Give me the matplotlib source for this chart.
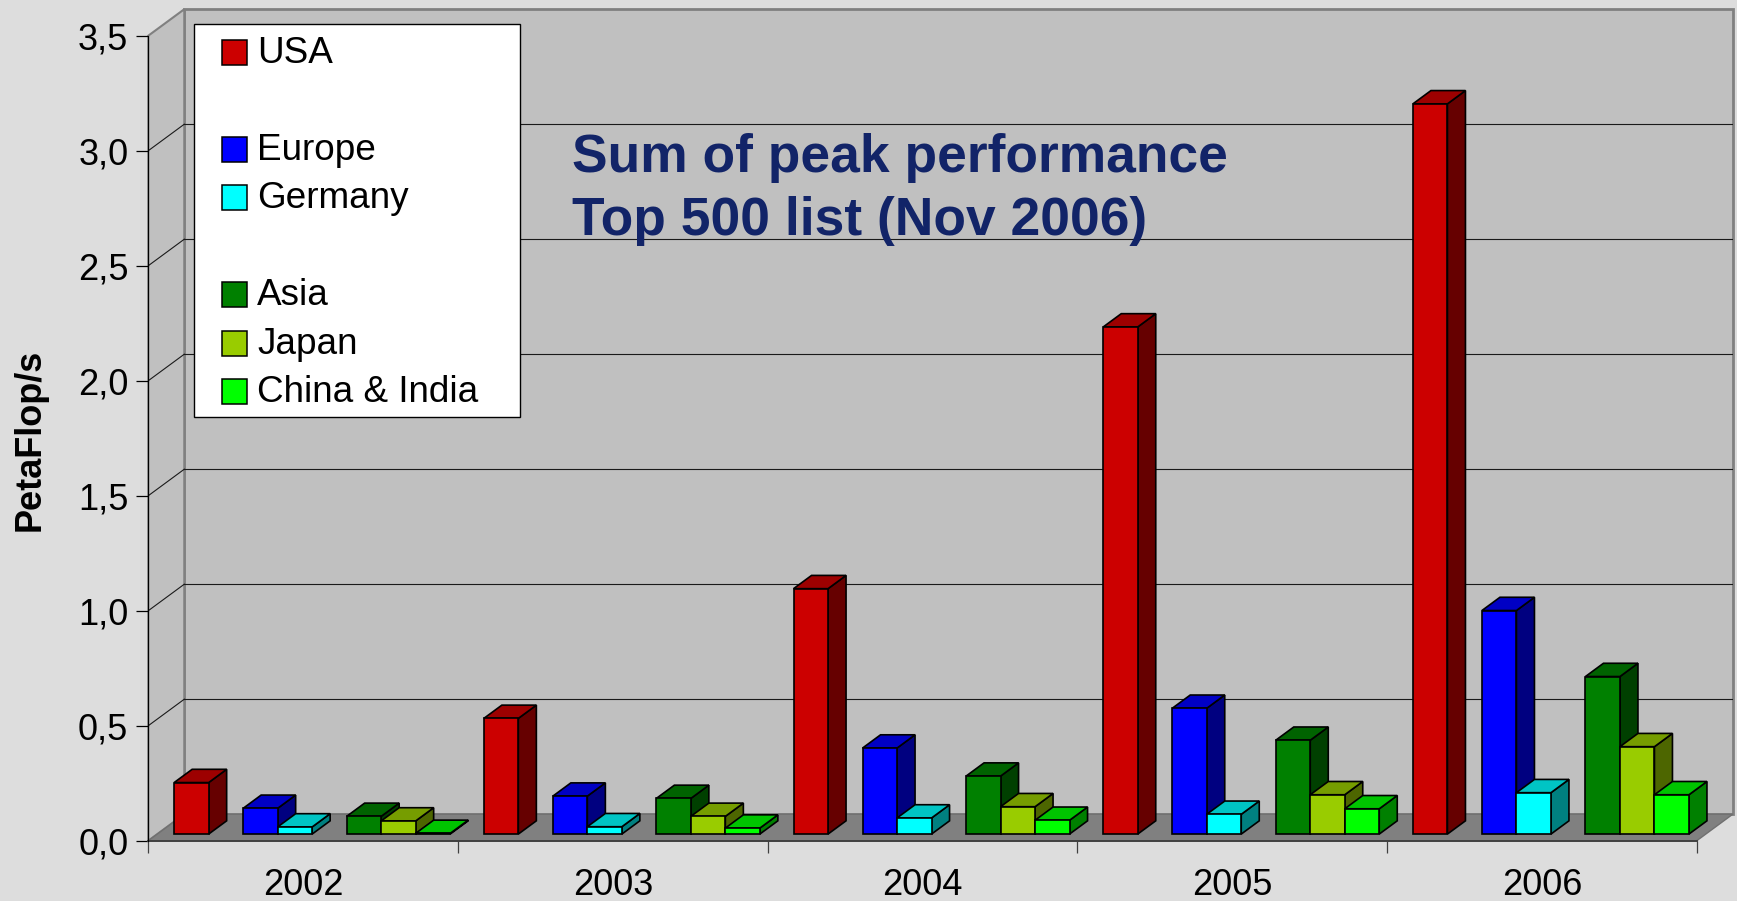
import numpy as np
import matplotlib.pyplot as plt
from matplotlib.patches import Polygon, Rectangle

plt.rcParams['font.family'] = ['Liberation Sans', 'DejaVu Sans']

# data (PetaFlop/s)
years = ['2002', '2003', '2004', '2005', '2006']
usa = [0.224, 0.503, 1.067, 2.205, 3.175]
europe = [0.112, 0.165, 0.374, 0.547, 0.972]
germany = [0.031, 0.032, 0.070, 0.086, 0.180]
asia = [0.077, 0.155, 0.252, 0.408, 0.685]
japan = [0.057, 0.077, 0.119, 0.171, 0.380]
china = [0.003, 0.026, 0.060, 0.110, 0.171]

names = ['USA', 'Europe', 'Germany', 'Asia', 'Japan', 'China & India']
series = [usa, europe, germany, asia, japan, china]
colors = ['#CC0000', '#0000FF', '#00FFFF', '#008000', '#99CC00', '#00FF00']
# excel leaves an empty series slot between the groups
slots = [0, 2, 3, 5, 6, 7]
nslots = 8

yticks = np.arange(0, 3.51, 0.5)
ymax = 3.5

W, H = 1737, 901
fig = plt.figure(figsize=(W / 100, H / 100), dpi=100, facecolor='#DDDDDD')

def fx(x):
    return x / W

def fy(y):
    return 1 - y / H

# front plane of the 3d box, in pixels
x0px, y0px = 148.3, 840.7
kx, ky = 309.7, 230.0
dx, dy = 36 / kx, 26.5 / ky   # depth of the floor
ncat = len(years)

ax = fig.add_axes([fx(x0px), fy(y0px), (ncat + dx) * kx / W, (ymax + dy) * ky / H])
ax.set_xlim(0, ncat + dx)
ax.set_ylim(0, ymax + dy)
ax.patch.set_visible(False)

# walls and floor
ax.add_patch(Polygon([(dx, dy), (ncat + dx, dy), (ncat + dx, ymax + dy), (dx, ymax + dy)],
                     fc='#C0C0C0', ec='#808080', lw=2, zorder=0, clip_on=False))
ax.add_patch(Polygon([(0, 0), (dx, dy), (dx, ymax + dy), (0, ymax)],
                     fc='#C0C0C0', ec='#808080', lw=1.5, zorder=0, clip_on=False))
ax.add_patch(Polygon([(0, 0), (ncat, 0), (ncat + dx, dy), (dx, dy)],
                     fc='#808080', ec='#707070', lw=1, zorder=1, clip_on=False))

for v in yticks[1:-1]:
    ax.plot([dx, ncat + dx], [v + dy, v + dy], color='#1a1a1a', lw=0.8, zorder=0.5)
    ax.plot([0, dx], [v, v + dy], color='#1a1a1a', lw=0.8, zorder=0.5)

# bars
w = 34.5 / kx
gap = (1 - nslots * w) / 2
bx, by = dx / 2, dy / 2   # bar depth
z = 2
for i in range(ncat):
    for s, vals, col in zip(slots, series, colors):
        v = vals[i]
        left = i + gap + s * w + dx / 4
        base = dy / 4
        top = v + base
        rgb = np.array(plt.matplotlib.colors.to_rgb(col))
        side = [(left + w, base), (left + w + bx, base + by), (left + w + bx, top + by), (left + w, top)]
        cap = [(left, top), (left + w, top), (left + w + bx, top + by), (left + bx, top + by)]
        ax.add_patch(Polygon(side, fc=rgb * 0.5, ec='black', lw=1.2, zorder=z, joinstyle='miter'))
        ax.add_patch(Polygon(cap, fc=rgb * 0.77, ec='black', lw=1.2, zorder=z, joinstyle='miter'))
        ax.bar(left, v, width=w, bottom=base, align='edge', color=col, edgecolor='black',
               linewidth=1.2, zorder=z + 0.1)
        z += 0.2

# axes
for sp in ['top', 'right']:
    ax.spines[sp].set_visible(False)
ax.spines['left'].set_bounds(0, ymax)
ax.spines['bottom'].set_bounds(0, ncat)
ax.spines['left'].set_zorder(3)
ax.spines['bottom'].set_color('#404040')
ax.spines['bottom'].set_linewidth(1.4)
ax.set_yticks(yticks, [f'{t:.1f}'.replace('.', ',') for t in yticks])
ax.tick_params(axis='y', direction='out', length=8.4, width=0.9, pad=6, labelsize=26)
ax.set_xticks(np.arange(ncat + 1), [''] * (ncat + 1))
ax.set_xticks(np.arange(ncat) + 0.5, years, minor=True)
ax.tick_params(axis='x', which='major', direction='out', length=8.6, width=0.9, color='#404040')
ax.tick_params(axis='x', which='minor', length=0, pad=20, labelsize=26)

fig.text(fx(30), fy(440), 'PetaFlop/s', rotation=90, ha='center', va='center',
         fontsize=26, fontweight='bold')

title_color = '#122468'
fig.text(fx(572), fy(171.7), 'Sum of peak performance', fontsize=38.4, fontweight='bold',
         color=title_color, va='baseline')
fig.text(fx(572), fy(235), 'Top 500 list (Nov 2006)', fontsize=38.4, fontweight='bold',
         color=title_color, va='baseline')

# legend box, blank rows where the empty series sit
fig.add_artist(Rectangle((fx(194.3), fy(416.7)), (519.7 - 194.3) / W, (416.7 - 24.3) / H,
                         transform=fig.transFigure, fc='white', ec='black', lw=1.0, zorder=5))
row0, rowh = 52.2, 48.5
for s, name, col in zip(slots, names, colors):
    yc = row0 + s * rowh
    fig.add_artist(Rectangle((fx(221.7), fy(yc + 12.3)), 25 / W, 24.6 / H,
                             transform=fig.transFigure, fc=col, ec='black', lw=1.1, zorder=6))
    fig.text(fx(257.3), fy(yc + 10.5), name, fontsize=26.6, va='baseline', zorder=7)

fig.savefig('out.png', dpi=100, facecolor=fig.get_facecolor())
